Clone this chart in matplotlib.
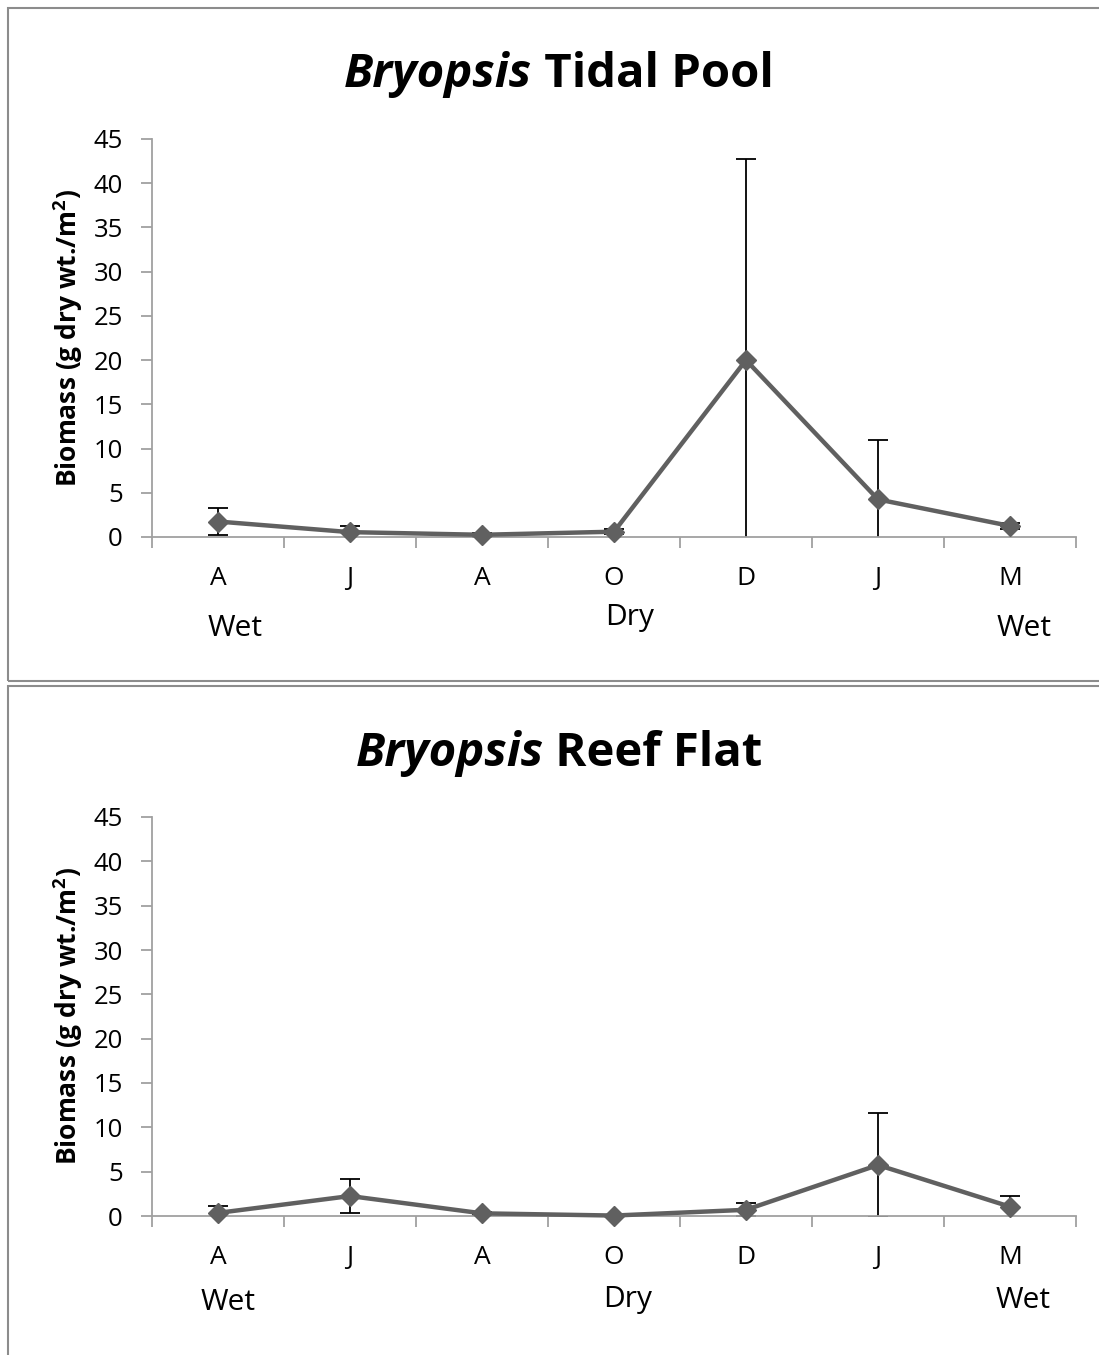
import matplotlib.pyplot as plt
from matplotlib.patches import Rectangle
import numpy as np

months = ['A', 'J', 'A', 'O', 'D', 'J', 'M']

# Tidal pool
pool_mean = [1.75, 0.55, 0.25, 0.6, 20.0, 4.25, 1.25]
pool_err = [1.5, 0.75, 0.2, 0.3, 22.7, 6.7, 0.3]

# Reef flat
reef_mean = [0.35, 2.25, 0.3, 0.05, 0.7, 5.75, 1.05]
reef_err = [0.8, 1.9, 0.2, 0.1, 0.75, 5.9, 1.25]

FONT = 'Open Sans'
plt.rcParams['font.family'] = [FONT, 'DejaVu Sans']
plt.rcParams['mathtext.fontset'] = 'custom'
plt.rcParams['mathtext.bf'] = FONT + ':bold'

W, H = 1099, 1355
fig = plt.figure(figsize=(W / 100, H / 100), dpi=100)

# panel frames
fig.patches.append(Rectangle((8 / W, (H - 681) / H), 1.2, (681 - 8) / H,
                             transform=fig.transFigure, fill=False,
                             ec='#8c8c8c', lw=1.5))
fig.patches.append(Rectangle((8 / W, -0.1), 1.2, 0.1 + (H - 686) / H,
                             transform=fig.transFigure, fill=False,
                             ec='#8c8c8c', lw=1.5))


def split_title(name, ybase):
    r = fig.canvas.get_renderer()
    t1 = fig.text(0, ybase, 'Bryopsis', fontsize=34, fontweight='bold',
                  fontstyle='italic', va='baseline', ha='left')
    t2 = fig.text(0, ybase, ' ' + name, fontsize=34, fontweight='bold',
                  va='baseline', ha='left')
    w1 = t1.get_window_extent(r).width / W
    w2 = t2.get_window_extent(r).width / W
    x0 = 559 / W - (w1 + w2) / 2
    t1.set_x(x0)
    t2.set_x(x0 + w1)


def panel(rect, mean, err, title, title_y, season_pos):
    ax = fig.add_axes(rect)
    x = np.arange(len(months)) + 0.5
    ax.errorbar(x, mean, yerr=err, fmt='none', ecolor='black',
                elinewidth=1.3, capsize=7, capthick=1.3, zorder=2)
    ax.plot(x, mean, color='#606060', lw=3.2, marker='D', ms=10,
            clip_on=False, zorder=3)
    ax.set_xlim(0, 7)
    ax.set_ylim(0, 45)
    ax.set_yticks(np.arange(0, 46, 5))
    ax.set_xticks(np.arange(0, 8))
    ax.set_xticklabels([])
    ax.set_xticks(x, minor=True)
    ax.set_xticklabels(months, minor=True)
    ax.tick_params(axis='x', which='minor', length=0, pad=21, labelsize=19)
    ax.tick_params(axis='x', which='major', length=8, color='#a0a0a0', width=1.3)
    ax.tick_params(axis='y', length=8, color='#a0a0a0', width=1.3,
                   pad=13, labelsize=18.5)
    for s in ['top', 'right']:
        ax.spines[s].set_visible(False)
    for s in ['left', 'bottom']:
        ax.spines[s].set_color('#a0a0a0')
        ax.spines[s].set_linewidth(1.3)
    for lab, xp, yp in season_pos:
        ax.text(xp, yp, lab, transform=ax.get_xaxis_transform(),
                ha='center', va='center', fontsize=21.5, clip_on=False)
    ycen = rect[1] + rect[3] / 2
    fig.text(68 / W, ycen, 'Biomass (g dry wt./m$\\mathbf{^2}$)', rotation=90,
             ha='center', va='center', fontsize=19, fontweight='bold')
    split_title(title, title_y)
    return ax


ax_h = 398 / H
panel([152 / W, (H - 537) / H, 924 / W, ax_h], pool_mean, pool_err,
      'Tidal Pool', 1 - 87 / H,
      [('Wet', 0.63, -91 / 398), ('Dry', 3.62, -80 / 398), ('Wet', 6.61, -91 / 398)])
panel([152 / W, (H - 1216) / H, 924 / W, 399 / H], reef_mean, reef_err,
      'Reef Flat', 1 - 766 / H,
      [('Wet', 0.58, -86 / 399), ('Dry', 3.6, -84 / 399), ('Wet', 6.6, -84 / 399)])

fig.savefig('out.png', dpi=100)
